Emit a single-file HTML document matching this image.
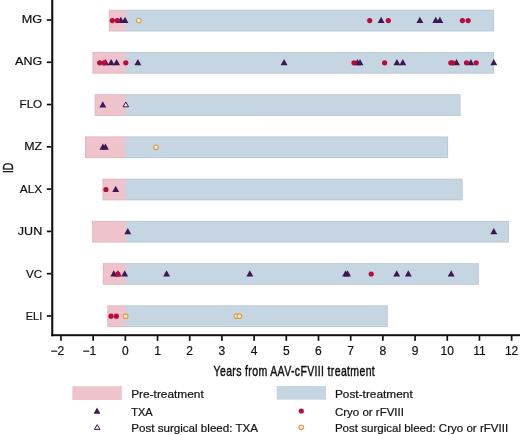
<!DOCTYPE html>
<html><head><meta charset="utf-8"><style>
html,body{margin:0;padding:0;background:#fff;}
body{width:520px;height:435px;overflow:hidden;}
svg{display:block;will-change:transform;}
text{font-family:"Liberation Sans", sans-serif;fill:#111;stroke:#111;stroke-width:0.2px;}
</style></head><body>
<svg width="520" height="435" viewBox="0 0 520 435">
<defs><linearGradient id="pb" gradientUnits="userSpaceOnUse" x1="0" y1="0" x2="520" y2="0">
<stop offset="0.23615" stop-color="#efc3cb"/><stop offset="0.24577" stop-color="#c5d5e1"/></linearGradient></defs>
<rect width="520" height="435" fill="#fff"/>
<rect x="108.80" y="9.75" width="385.20" height="21.7" fill="url(#pb)"/>
<rect x="109.30" y="10.25" width="384.20" height="20.7" fill="none" stroke="rgba(60,60,80,0.07)" stroke-width="1"/>
<rect x="92.40" y="51.98" width="401.60" height="21.7" fill="url(#pb)"/>
<rect x="92.90" y="52.48" width="400.60" height="20.7" fill="none" stroke="rgba(60,60,80,0.07)" stroke-width="1"/>
<rect x="94.70" y="94.21" width="365.90" height="21.7" fill="url(#pb)"/>
<rect x="95.20" y="94.71" width="364.90" height="20.7" fill="none" stroke="rgba(60,60,80,0.07)" stroke-width="1"/>
<rect x="85.00" y="136.44" width="363.10" height="21.7" fill="url(#pb)"/>
<rect x="85.50" y="136.94" width="362.10" height="20.7" fill="none" stroke="rgba(60,60,80,0.07)" stroke-width="1"/>
<rect x="102.50" y="178.67" width="360.20" height="21.7" fill="url(#pb)"/>
<rect x="103.00" y="179.17" width="359.20" height="20.7" fill="none" stroke="rgba(60,60,80,0.07)" stroke-width="1"/>
<rect x="92.10" y="220.90" width="416.90" height="21.7" fill="url(#pb)"/>
<rect x="92.60" y="221.40" width="415.90" height="20.7" fill="none" stroke="rgba(60,60,80,0.07)" stroke-width="1"/>
<rect x="102.80" y="263.13" width="376.00" height="21.7" fill="url(#pb)"/>
<rect x="103.30" y="263.63" width="375.00" height="20.7" fill="none" stroke="rgba(60,60,80,0.07)" stroke-width="1"/>
<rect x="107.30" y="305.36" width="280.50" height="21.7" fill="url(#pb)"/>
<rect x="107.80" y="305.86" width="279.50" height="20.7" fill="none" stroke="rgba(60,60,80,0.07)" stroke-width="1"/>
<polygon points="120.80,16.80 124.25,23.00 117.35,23.00" fill="#3e1656"/>
<polygon points="125.00,16.80 128.45,23.00 121.55,23.00" fill="#3e1656"/>
<polygon points="381.10,16.80 384.55,23.00 377.65,23.00" fill="#3e1656"/>
<polygon points="419.90,16.80 423.35,23.00 416.45,23.00" fill="#3e1656"/>
<polygon points="435.80,16.80 439.25,23.00 432.35,23.00" fill="#3e1656"/>
<polygon points="439.90,16.80 443.35,23.00 436.45,23.00" fill="#3e1656"/>
<circle cx="112.30" cy="20.60" r="2.6" fill="#b90a3a"/>
<circle cx="117.30" cy="20.60" r="2.6" fill="#b90a3a"/>
<circle cx="138.80" cy="20.60" r="2.35" fill="#f6e8c6" stroke="#d99f48" stroke-width="1.1"/>
<circle cx="369.70" cy="20.60" r="2.6" fill="#b90a3a"/>
<circle cx="388.30" cy="20.60" r="2.6" fill="#b90a3a"/>
<circle cx="462.40" cy="20.60" r="2.6" fill="#b90a3a"/>
<circle cx="468.10" cy="20.60" r="2.6" fill="#b90a3a"/>
<polygon points="105.50,59.03 108.95,65.23 102.05,65.23" fill="#3e1656"/>
<polygon points="111.20,59.03 114.65,65.23 107.75,65.23" fill="#3e1656"/>
<polygon points="116.60,59.03 120.05,65.23 113.15,65.23" fill="#3e1656"/>
<polygon points="137.90,59.03 141.35,65.23 134.45,65.23" fill="#3e1656"/>
<polygon points="284.10,59.03 287.55,65.23 280.65,65.23" fill="#3e1656"/>
<polygon points="357.40,59.03 360.85,65.23 353.95,65.23" fill="#3e1656"/>
<polygon points="360.00,59.03 363.45,65.23 356.55,65.23" fill="#3e1656"/>
<polygon points="396.90,59.03 400.35,65.23 393.45,65.23" fill="#3e1656"/>
<polygon points="402.80,59.03 406.25,65.23 399.35,65.23" fill="#3e1656"/>
<polygon points="456.50,59.03 459.95,65.23 453.05,65.23" fill="#3e1656"/>
<polygon points="470.80,59.03 474.25,65.23 467.35,65.23" fill="#3e1656"/>
<polygon points="493.80,59.03 497.25,65.23 490.35,65.23" fill="#3e1656"/>
<circle cx="99.70" cy="62.83" r="2.6" fill="#b90a3a"/>
<circle cx="104.20" cy="62.83" r="2.6" fill="#b90a3a"/>
<circle cx="125.80" cy="62.83" r="2.6" fill="#b90a3a"/>
<circle cx="354.00" cy="62.83" r="2.6" fill="#b90a3a"/>
<circle cx="384.60" cy="62.83" r="2.6" fill="#b90a3a"/>
<circle cx="450.80" cy="62.83" r="2.6" fill="#b90a3a"/>
<circle cx="452.60" cy="62.83" r="2.6" fill="#b90a3a"/>
<circle cx="466.50" cy="62.83" r="2.6" fill="#b90a3a"/>
<circle cx="476.20" cy="62.83" r="2.6" fill="#b90a3a"/>
<polygon points="102.80,101.26 106.25,107.46 99.35,107.46" fill="#3e1656"/>
<polygon points="125.80,102.01 128.55,106.81 123.05,106.81" fill="#f3e8f2" stroke="#3e1656" stroke-width="1.0" stroke-linejoin="miter"/>
<polygon points="102.90,143.49 106.35,149.69 99.45,149.69" fill="#3e1656"/>
<polygon points="105.40,143.49 108.85,149.69 101.95,149.69" fill="#3e1656"/>
<circle cx="156.00" cy="147.29" r="2.35" fill="#f6e8c6" stroke="#d99f48" stroke-width="1.1"/>
<polygon points="115.70,185.72 119.15,191.92 112.25,191.92" fill="#3e1656"/>
<circle cx="105.90" cy="189.52" r="2.6" fill="#b90a3a"/>
<polygon points="127.80,227.95 131.25,234.15 124.35,234.15" fill="#3e1656"/>
<polygon points="493.80,227.95 497.25,234.15 490.35,234.15" fill="#3e1656"/>
<polygon points="113.80,270.18 117.25,276.38 110.35,276.38" fill="#3e1656"/>
<polygon points="118.00,270.18 121.45,276.38 114.55,276.38" fill="#3e1656"/>
<polygon points="124.70,270.18 128.15,276.38 121.25,276.38" fill="#3e1656"/>
<polygon points="166.60,270.18 170.05,276.38 163.15,276.38" fill="#3e1656"/>
<polygon points="249.80,270.18 253.25,276.38 246.35,276.38" fill="#3e1656"/>
<polygon points="345.60,270.18 349.05,276.38 342.15,276.38" fill="#3e1656"/>
<polygon points="347.60,270.18 351.05,276.38 344.15,276.38" fill="#3e1656"/>
<polygon points="396.70,270.18 400.15,276.38 393.25,276.38" fill="#3e1656"/>
<polygon points="408.30,270.18 411.75,276.38 404.85,276.38" fill="#3e1656"/>
<polygon points="451.20,270.18 454.65,276.38 447.75,276.38" fill="#3e1656"/>
<circle cx="117.80" cy="273.98" r="2.6" fill="#b90a3a"/>
<circle cx="371.20" cy="273.98" r="2.6" fill="#b90a3a"/>
<circle cx="111.00" cy="316.21" r="2.6" fill="#b90a3a"/>
<circle cx="116.30" cy="316.21" r="2.6" fill="#b90a3a"/>
<circle cx="125.60" cy="316.21" r="2.35" fill="#f6e8c6" stroke="#d99f48" stroke-width="1.1"/>
<circle cx="236.50" cy="316.21" r="2.35" fill="#f6e8c6" stroke="#d99f48" stroke-width="1.1"/>
<circle cx="239.40" cy="316.21" r="2.35" fill="#f6e8c6" stroke="#d99f48" stroke-width="1.1"/>
<rect x="51.2" y="0" width="2.1" height="336.2" fill="#111"/>
<rect x="51.2" y="334.2" width="468.8" height="2" fill="#111"/>
<rect x="60.12" y="336" width="1.7" height="4.8" fill="#111"/>
<rect x="92.31" y="336" width="1.7" height="4.8" fill="#111"/>
<rect x="124.50" y="336" width="1.7" height="4.8" fill="#111"/>
<rect x="156.69" y="336" width="1.7" height="4.8" fill="#111"/>
<rect x="188.88" y="336" width="1.7" height="4.8" fill="#111"/>
<rect x="221.07" y="336" width="1.7" height="4.8" fill="#111"/>
<rect x="253.26" y="336" width="1.7" height="4.8" fill="#111"/>
<rect x="285.45" y="336" width="1.7" height="4.8" fill="#111"/>
<rect x="317.64" y="336" width="1.7" height="4.8" fill="#111"/>
<rect x="349.83" y="336" width="1.7" height="4.8" fill="#111"/>
<rect x="382.02" y="336" width="1.7" height="4.8" fill="#111"/>
<rect x="414.21" y="336" width="1.7" height="4.8" fill="#111"/>
<rect x="446.40" y="336" width="1.7" height="4.8" fill="#111"/>
<rect x="478.59" y="336" width="1.7" height="4.8" fill="#111"/>
<rect x="510.78" y="336" width="1.7" height="4.8" fill="#111"/>
<rect x="46.8" y="19.15" width="4.5" height="1.7" fill="#111"/>
<rect x="46.8" y="61.43" width="4.5" height="1.7" fill="#111"/>
<rect x="46.8" y="103.71" width="4.5" height="1.7" fill="#111"/>
<rect x="46.8" y="145.99" width="4.5" height="1.7" fill="#111"/>
<rect x="46.8" y="188.27" width="4.5" height="1.7" fill="#111"/>
<rect x="46.8" y="230.55" width="4.5" height="1.7" fill="#111"/>
<rect x="46.8" y="272.83" width="4.5" height="1.7" fill="#111"/>
<rect x="46.8" y="315.11" width="4.5" height="1.7" fill="#111"/>
<rect x="72.3" y="386.2" width="49.5" height="13.8" fill="#efc3cb"/>
<rect x="276.7" y="386" width="49.3" height="13.7" fill="#c5d5e1"/>
<polygon points="97.00,407.50 100.45,413.70 93.55,413.70" fill="#3e1656"/>
<polygon points="97.20,424.65 99.95,429.45 94.45,429.45" fill="#f3e8f2" stroke="#3e1656" stroke-width="1.0" stroke-linejoin="miter"/>
<circle cx="301.30" cy="411.00" r="2.6" fill="#b90a3a"/>
<circle cx="301.30" cy="427.30" r="2.35" fill="#f6e8c6" stroke="#d99f48" stroke-width="1.1"/>
<text x="0" y="0" font-size="11.5" text-anchor="end" transform="translate(42.2 23.04) scale(1.1 1)">MG</text>
<text x="0" y="0" font-size="11.5" text-anchor="end" transform="translate(42.2 65.46) scale(1.09 1)">ANG</text>
<text x="0" y="0" font-size="11.5" text-anchor="end" transform="translate(42.2 107.88) scale(1.015 1)">FLO</text>
<text x="0" y="0" font-size="11.5" text-anchor="end" transform="translate(42.2 150.30) scale(1.08 1)">MZ</text>
<text x="0" y="0" font-size="11.5" text-anchor="end" transform="translate(42.2 192.72) scale(1.03 1)">ALX</text>
<text x="0" y="0" font-size="11.5" text-anchor="end" transform="translate(42.2 235.14) scale(1.09 1)">JUN</text>
<text x="0" y="0" font-size="11.5" text-anchor="end" transform="translate(42.2 277.56) scale(1.01 1)">VC</text>
<text x="0" y="0" font-size="11.5" text-anchor="end" transform="translate(42.2 319.98) scale(0.95 1)">ELI</text>
<text x="57.22" y="355.2" font-size="12" text-anchor="middle" >−2</text>
<text x="89.41" y="355.2" font-size="12" text-anchor="middle" >−1</text>
<text x="125.30" y="355.2" font-size="12" text-anchor="middle" >0</text>
<text x="157.49" y="355.2" font-size="12" text-anchor="middle" >1</text>
<text x="189.68" y="355.2" font-size="12" text-anchor="middle" >2</text>
<text x="221.87" y="355.2" font-size="12" text-anchor="middle" >3</text>
<text x="254.06" y="355.2" font-size="12" text-anchor="middle" >4</text>
<text x="286.25" y="355.2" font-size="12" text-anchor="middle" >5</text>
<text x="318.44" y="355.2" font-size="12" text-anchor="middle" >6</text>
<text x="350.63" y="355.2" font-size="12" text-anchor="middle" >7</text>
<text x="382.82" y="355.2" font-size="12" text-anchor="middle" >8</text>
<text x="415.01" y="355.2" font-size="12" text-anchor="middle" >9</text>
<text x="447.20" y="355.2" font-size="12" text-anchor="middle" >10</text>
<text x="479.39" y="355.2" font-size="12" text-anchor="middle" >11</text>
<text x="511.58" y="355.2" font-size="12" text-anchor="middle" >12</text>
<text x="0" y="0" font-size="14.6" textLength="223.89" lengthAdjust="spacing" transform="translate(213.6 376.3) scale(0.72 1)" style="stroke-width:0.45px">Years from AAV-cFVIII treatment</text>
<text x="0" y="0" font-size="15.2" text-anchor="middle" transform="translate(12.8 167.9) rotate(-90) scale(0.68 1)" style="stroke-width:0.35px">ID</text>
<text x="0" y="0" font-size="11" transform="translate(131.2 397.8) scale(1.08 1)">Pre-treatment</text>
<text x="0" y="0" font-size="11" transform="translate(131.2 415.9) scale(1.0 1)">TXA</text>
<text x="0" y="0" font-size="11" transform="translate(131.2 431.8) scale(1.057 1)">Post surgical bleed: TXA</text>
<text x="0" y="0" font-size="11" transform="translate(334.9 397.8) scale(1.079 1)">Post-treatment</text>
<text x="0" y="0" font-size="11" transform="translate(334.9 415.9) scale(1.048 1)">Cryo or rFVIII</text>
<text x="0" y="0" font-size="11" transform="translate(334.9 431.8) scale(1.051 1)">Post surgical bleed: Cryo or rFVIII</text>
</svg>
</body></html>
